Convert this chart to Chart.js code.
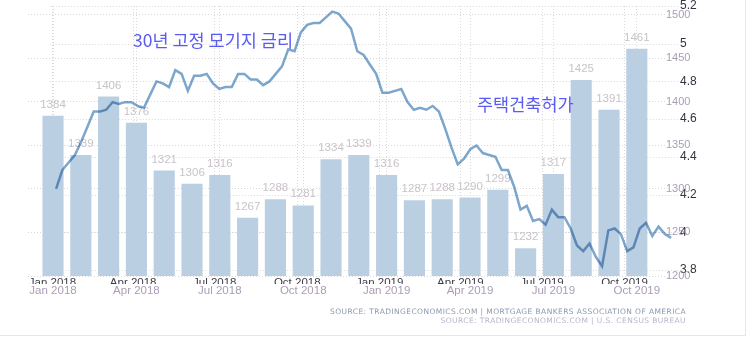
<!DOCTYPE html>
<html>
<head>
<meta charset="utf-8">
<script src="https://cdn.jsdelivr.net/npm/chart.js@4.4.0/dist/chart.umd.min.js"></script>
<style>
  body { margin: 0; background: #fff; }
  #wrap { position: relative; width: 751px; height: 338px; overflow: hidden; }
  #marco { position: absolute; left: 0; top: 0; width: 745px; height: 335px; border-right: 1px solid #e6e6e6; border-bottom: 1px solid #e6e6e6; pointer-events: none; }
  .nota { position: absolute; font-family: "Noto Sans CJK KR"; font-size: 17.5px; line-height: 18px; color: #5a5af5; white-space: nowrap; }
  .fuente { position: absolute; right: 65px; font-family: "DejaVu Sans"; font-size: 7.5px; line-height: 9px; letter-spacing: 0.42px; white-space: nowrap; }
</style>
</head>
<body>
<div id="wrap">
  <canvas id="grafico" width="751" height="338"></canvas>
  <div class="nota" style="left:133px; top:31px;">30년 고정 모기지 금리</div>
  <div class="nota" style="left:477px; top:95px;">주택건축허가</div>
  <div class="fuente" style="top:307px; color:#8d97ad;">SOURCE: TRADINGECONOMICS.COM | MORTGAGE BANKERS ASSOCIATION OF AMERICA</div>
  <div class="fuente" style="top:316px; color:#bab4cc;">SOURCE: TRADINGECONOMICS.COM | U.S. CENSUS BUREAU</div>
  <div id="marco"></div>
</div>
<script>
// meses de las barras (permisos de construccion, miles)
var months = ['Jan 2018', 'Feb 2018', 'Mar 2018', 'Apr 2018', 'May 2018', 'Jun 2018',
    'Jul 2018', 'Aug 2018', 'Sep 2018', 'Oct 2018', 'Nov 2018', 'Dec 2018',
    'Jan 2019', 'Feb 2019', 'Mar 2019', 'Apr 2019', 'May 2019', 'Jun 2019',
    'Jul 2019', 'Aug 2019', 'Sep 2019', 'Oct 2019'];
var permits = [1384, 1339, 1406, 1376, 1321, 1306, 1316, 1267, 1288, 1281, 1334, 1339,
    1316, 1287, 1288, 1290, 1299, 1232, 1317, 1425, 1391, 1461];

// tasa hipotecaria 30 anos, semanal desde el 5 de enero de 2018
var rateStart = '2018-01-05';
var rates = [4.23, 4.33, 4.37, 4.41, 4.48, 4.56, 4.64, 4.64, 4.65, 4.69,
    4.68, 4.69, 4.69, 4.67, 4.66, 4.73, 4.80, 4.79, 4.77, 4.86,
    4.84, 4.75, 4.83, 4.83, 4.84, 4.79, 4.76, 4.77, 4.77, 4.84,
    4.84, 4.81, 4.81, 4.78, 4.80, 4.84, 4.88, 4.97, 4.96, 5.06,
    5.10, 5.11, 5.11, 5.14, 5.17, 5.16, 5.12, 5.08, 4.96, 4.94,
    4.89, 4.84, 4.74, 4.74, 4.75, 4.76, 4.69, 4.65, 4.66, 4.65,
    4.67, 4.64, 4.55, 4.45, 4.36, 4.39, 4.44, 4.46, 4.42, 4.41,
    4.40, 4.33, 4.33, 4.24, 4.12, 4.14, 4.06, 4.07, 4.04, 4.12,
    4.08, 4.08, 4.02, 3.93, 3.90, 3.94, 3.87, 3.82, 4.01, 4.02,
    3.99, 3.90, 3.92, 4.02, 4.05, 3.98, 4.03, 3.99, 3.97];

// etiquetas del eje x
var quarterLabels = ['Jan 2018', 'Apr 2018', 'Jul 2018', 'Oct 2018', 'Jan 2019', 'Apr 2019', 'Jul 2019', 'Oct 2019'];
var quarterDates = ['2018-01-01', '2018-04-01', '2018-07-01', '2018-10-01', '2019-01-01', '2019-04-01', '2019-07-01', '2019-10-01'];
var rateTicks = [3.8, 4.0, 4.2, 4.4, 4.6, 4.8, 5.0, 5.2];
var permitTicks = [1200, 1250, 1300, 1350, 1400, 1450, 1500];

function dayIndex(d) {
    return (Date.parse(d) - Date.parse('2018-01-01')) / 86400000;
}

var quarterDays = quarterDates.map(dayIndex);
var barPoints = permits.map(function(v, i) { return { x: i, y: v }; });
var ratePoints = rates.map(function(v, i) { return { x: dayIndex(rateStart) + 7 * i, y: v }; });
var barTicks = [];
for (var i = 0; i < months.length; i++) {
    if (quarterLabels.indexOf(months[i]) >= 0) barTicks.push(i);
}

var gridColor = '#d9d9d9';
var rateFont = { family: 'Liberation Sans', size: 12 };

// ancho de la etiqueta mas larga del eje de tasas (para alinear a la izquierda)
function widestRateLabel() {
    var c = document.createElement('canvas').getContext('2d');
    c.font = rateFont.size + 'px "' + rateFont.family + '"';
    var w = 0;
    rateTicks.forEach(function(v) { w = Math.max(w, c.measureText(String(+v.toFixed(1))).width); });
    return w;
}

var extras = {
    id: 'extras',
    beforeDatasetsDraw: function(chart) {
        // rejilla de la tasa, un poco desplazada como en el original
        var ctx = chart.ctx;
        var ys = chart.scales.yRate, xs = chart.scales.xRate;
        var x0 = xs.getPixelForValue(-3), x1 = xs.getPixelForValue(700);
        ctx.save();
        ctx.strokeStyle = gridColor;
        ctx.lineWidth = 1;
        ctx.setLineDash([1, 2]);
        rateTicks.forEach(function(v) {
            var y = Math.round(ys.getPixelForValue(v)) + 0.5;
            ctx.beginPath();
            ctx.moveTo(x0, y);
            ctx.lineTo(x1, y);
            ctx.stroke();
        });
        ctx.restore();
    },
    beforeDatasetDraw: function(chart, args) {
        if (args.index === 1) {
            chart.ctx.save();
            chart.ctx.globalCompositeOperation = 'multiply';
        }
    },
    afterDatasetDraw: function(chart, args) {
        var ctx = chart.ctx;
        if (args.index === 1) {
            ctx.restore();
            return;
        }
        // valores encima de cada barra
        var meta = chart.getDatasetMeta(0);
        ctx.save();
        ctx.font = '11.5px "Liberation Sans"';
        ctx.fillStyle = '#c9c3c9';
        ctx.textAlign = 'center';
        ctx.textBaseline = 'alphabetic';
        meta.data.forEach(function(bar, i) {
            ctx.fillText(String(permits[i]), bar.x, bar.y - 8);
        });
        ctx.restore();
    }
};

function sinRelleno(s, w) {
    s.width = w;
    s.paddingTop = 0;
    s.paddingBottom = 0;
}

new Chart(document.getElementById('grafico'), {
    type: 'bar',
    data: {
        datasets: [{
            type: 'bar',
            data: barPoints,
            xAxisID: 'xBar',
            yAxisID: 'yBar',
            backgroundColor: '#bbcfe3',
            grouped: false,
            barPercentage: 0.95,
            categoryPercentage: 0.8,
            order: 1
        }, {
            type: 'line',
            data: ratePoints,
            xAxisID: 'xRate',
            yAxisID: 'yRate',
            borderColor: '#7da6cc',
            borderWidth: 2.5,
            pointRadius: 0,
            tension: 0,
            clip: false,
            order: 0
        }]
    },
    options: {
        responsive: false,
        animation: false,
        layout: { padding: { left: 28, top: 6, right: 0, bottom: 40 } },
        plugins: { legend: { display: false }, tooltip: { enabled: false } },
        scales: {
            xRate: {
                type: 'linear',
                position: 'bottom',
                weight: 0,
                offset: false,
                min: -27.3,
                max: 684.3,
                afterBuildTicks: function(s) { s.ticks = quarterDays.map(function(v) { return { value: v }; }); },
                afterFit: function(s) { s.height = 8; },
                grid: { color: gridColor, drawTicks: false, offset: false },
                border: { display: false, dash: [1, 2] },
                ticks: {
                    autoSkip: false, maxRotation: 0, padding: 0,
                    color: '#3d3d4a',
                    font: { family: 'Liberation Sans', size: 11.5 },
                    callback: function(v, i) { return quarterLabels[i]; }
                }
            },
            xBar: {
                type: 'linear',
                position: 'bottom',
                weight: 1,
                offset: false,
                min: -0.9,
                max: 22.05,
                afterBuildTicks: function(s) { s.ticks = barTicks.map(function(v) { return { value: v }; }); },
                afterFit: function(s) { s.height = 14; },
                grid: { color: gridColor, drawTicks: false, offset: false },
                border: { display: false, dash: [1, 2] },
                ticks: {
                    autoSkip: false, maxRotation: 0, padding: 0,
                    color: '#aa9db5',
                    font: { family: 'Liberation Sans', size: 11.5 },
                    callback: function(v) { return months[v]; }
                }
            },
            yRate: {
                type: 'linear',
                position: 'right',
                weight: 0,
                min: 3.768,
                max: 5.2,
                afterBuildTicks: function(s) { s.ticks = rateTicks.map(function(v) { return { value: v }; }); },
                afterFit: function(s) { sinRelleno(s, 0); },
                grid: { display: false, drawTicks: false },
                border: { display: false },
                ticks: {
                    mirror: true,
                    crossAlign: 'far',
                    padding: 14 + widestRateLabel(),
                    color: '#333340',
                    font: rateFont,
                    callback: function(v) { return String(+v.toFixed(1)); }
                }
            },
            yBar: {
                type: 'linear',
                position: 'right',
                weight: 1,
                min: 1200,
                max: 1510,
                afterBuildTicks: function(s) { s.ticks = permitTicks.map(function(v) { return { value: v }; }); },
                afterFit: function(s) { sinRelleno(s, 85); },
                grid: { color: gridColor, drawTicks: false },
                border: { display: false, dash: [1, 2] },
                ticks: {
                    padding: 0,
                    color: '#aa9db5',
                    font: { family: 'Liberation Sans', size: 11 },
                    callback: function(v) { return String(v); }
                }
            }
        }
    },
    plugins: [extras]
});
</script>
</body>
</html>
